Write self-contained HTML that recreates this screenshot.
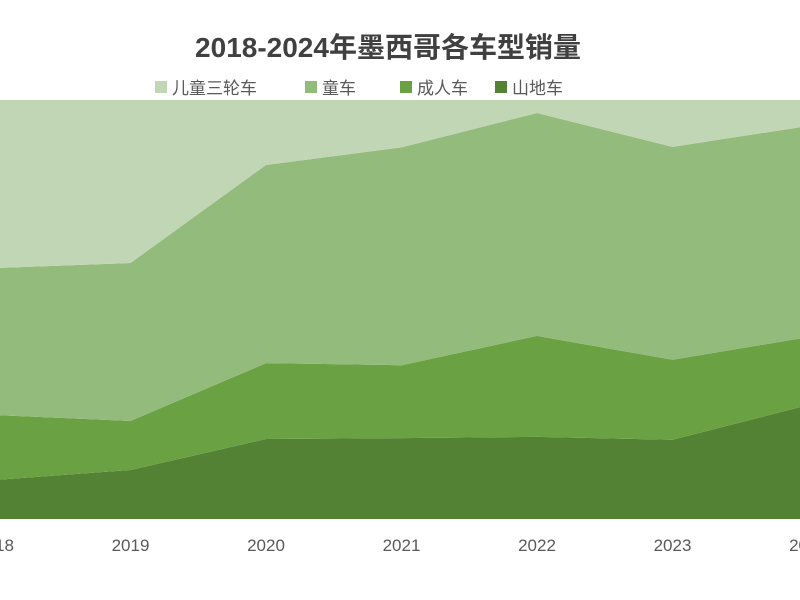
<!DOCTYPE html>
<html><head><meta charset="utf-8"><style>
html,body{margin:0;padding:0;background:#fff;width:800px;height:600px;overflow:hidden;font-family:"Liberation Sans","Noto Sans CJK SC",sans-serif}
</style></head><body>
<svg id="chart" width="800" height="600" xmlns="http://www.w3.org/2000/svg">
<text x="388" y="57" text-anchor="middle" font-size="28" font-weight="bold" fill="#404040" font-family="Liberation Sans, Noto Sans CJK SC, sans-serif">2018-2024年墨西哥各车型销量</text>
<g id="legend"></g>
<defs><clipPath id="plotclip"><rect x="-20" y="100" width="840" height="420"/></clipPath></defs>
<g id="areas" clip-path="url(#plotclip)"></g>
<g id="xaxis"></g>
</svg>
<script>
const categories=['2018','2019','2020','2021','2022','2023','2024'];
const seriesNames=['山地车','成人车','童车','儿童三轮车'];
const mtb=[9.3,11.7,19.1,19.3,19.6,18.9,27.2];
const adult=[15.5,11.7,18.1,17.4,24.1,19.1,16.2];
const kids=[35.1,37.7,47.3,52.0,53.2,50.8,50.4];
const tricycle=[45,45,20,16,10,16,12];
const colors=['#548235','#6aa142','#93bb7c','#c0d6b5'];
const NS='http://www.w3.org/2000/svg';
const x0=-5,dx=135.5,yBase=519,yTop=100,yMax=100;
const xs=i=>x0+i*dx;
const ys=v=>yBase-(v/yMax)*(yBase-yTop);
const series=[mtb,adult,kids,tricycle];
const areas=document.getElementById('areas');
let cum=categories.map(()=>0);
series.forEach((s,k)=>{
  const lower=cum.slice();
  const upper=cum.map((c,i)=>c+s[i]);
  let d='';
  upper.forEach((v,i)=>{d+=(i?'L':'M')+xs(i)+','+ys(v)+' ';});
  for(let i=lower.length-1;i>=0;i--)d+='L'+xs(i)+','+ys(lower[i])+' ';
  const p=document.createElementNS(NS,'path');
  p.setAttribute('d',d+'Z');
  p.setAttribute('fill',colors[k]);
  
  
  areas.appendChild(p);
  cum=upper;
});
const xa=document.getElementById('xaxis');
categories.forEach((c,i)=>{
  const t=document.createElementNS(NS,'text');
  t.setAttribute('x',xs(i));t.setAttribute('y',551);
  t.setAttribute('text-anchor','middle');t.setAttribute('font-size','17');t.setAttribute('fill','#595959');
  
  
  t.textContent=c;xa.appendChild(t);
});
const lg=document.getElementById('legend');
const legOrder=[3,2,1,0];const legX=[155,305,400,495];
legOrder.forEach((k,j)=>{
  const r=document.createElementNS(NS,'rect');
  r.setAttribute('x',legX[j]);r.setAttribute('y',81);r.setAttribute('width',12);r.setAttribute('height',12);r.setAttribute('fill',colors[k]);
  
  
  lg.appendChild(r);
  const t=document.createElementNS(NS,'text');
  t.setAttribute('x',legX[j]+17);t.setAttribute('y',94);t.setAttribute('font-size','17');t.setAttribute('fill','#595959');
  
  
  t.textContent=seriesNames[k];lg.appendChild(t);
});
</script>
</body></html>
